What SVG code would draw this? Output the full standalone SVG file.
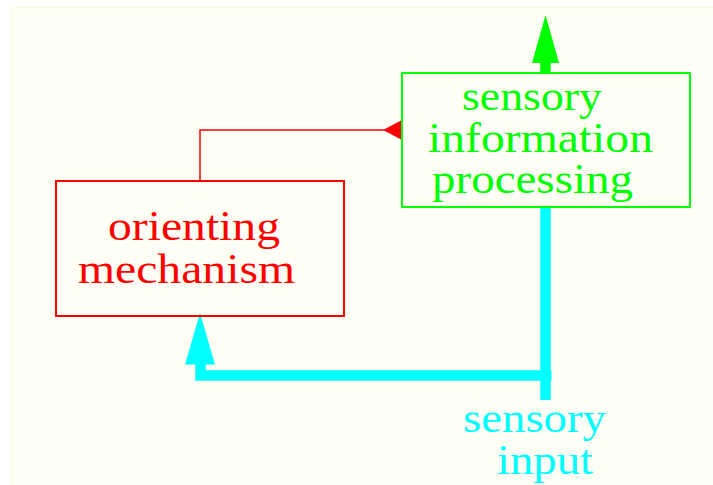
<svg xmlns="http://www.w3.org/2000/svg" width="713" height="485" viewBox="0 0 713 485">
<defs>
<style>
.t{font-family:"Liberation Serif","Times New Roman",serif;font-size:42px}
.box{fill:none;stroke-width:2}
</style>
</defs>
<rect x="0" y="0" width="713" height="485" fill="#ffffff"/>
<rect x="12.5" y="7.5" width="710" height="490" fill="#fffff6" stroke="#fbfbdc" stroke-width="1"/>
<g id="connectors">
<path d="M200,180 V130 H384" fill="none" stroke="#ff0000" stroke-width="1.5"/>
<polygon points="402,120 402,140 383,130" fill="#ff0000"/>
<path d="M545.5,73 V62" fill="none" stroke="#00ff00" stroke-width="10.5"/>
<polygon points="532,63 559,63 545.5,15" fill="#00ff00"/>
<path d="M545.5,207 V400" fill="none" stroke="#00ffff" stroke-width="10.5"/>
<path d="M551.5,375.5 H200.5 V363" fill="none" stroke="#00ffff" stroke-width="10.5" stroke-linejoin="miter"/>
<polygon points="185,364.5 215,364.5 200,313" fill="#00ffff"/>
</g>
<g id="orienting">
<rect class="box" x="56" y="181" width="288" height="135" stroke="#ff0000"/>
<text class="t" fill="#ff0000" x="108" y="240" textLength="172" lengthAdjust="spacingAndGlyphs">orienting</text>
<text class="t" fill="#ff0000" x="78" y="283" textLength="217" lengthAdjust="spacingAndGlyphs">mechanism</text>
</g>
<g id="sensory-processing">
<rect class="box" x="402" y="73" width="288" height="134" stroke="#00ff00"/>
<text class="t" fill="#00ff00" x="462" y="110" textLength="140" lengthAdjust="spacingAndGlyphs">sensory</text>
<text class="t" fill="#00ff00" x="428" y="152" textLength="225" lengthAdjust="spacingAndGlyphs">information</text>
<text class="t" fill="#00ff00" x="432" y="193" textLength="201" lengthAdjust="spacingAndGlyphs">processing</text>
</g>
<g id="sensory-input">
<text class="t" fill="#00ffff" x="463" y="432" textLength="143" lengthAdjust="spacingAndGlyphs">sensory</text>
<text class="t" fill="#00ffff" x="497" y="474" textLength="96" lengthAdjust="spacingAndGlyphs">input</text>
</g>
</svg>
